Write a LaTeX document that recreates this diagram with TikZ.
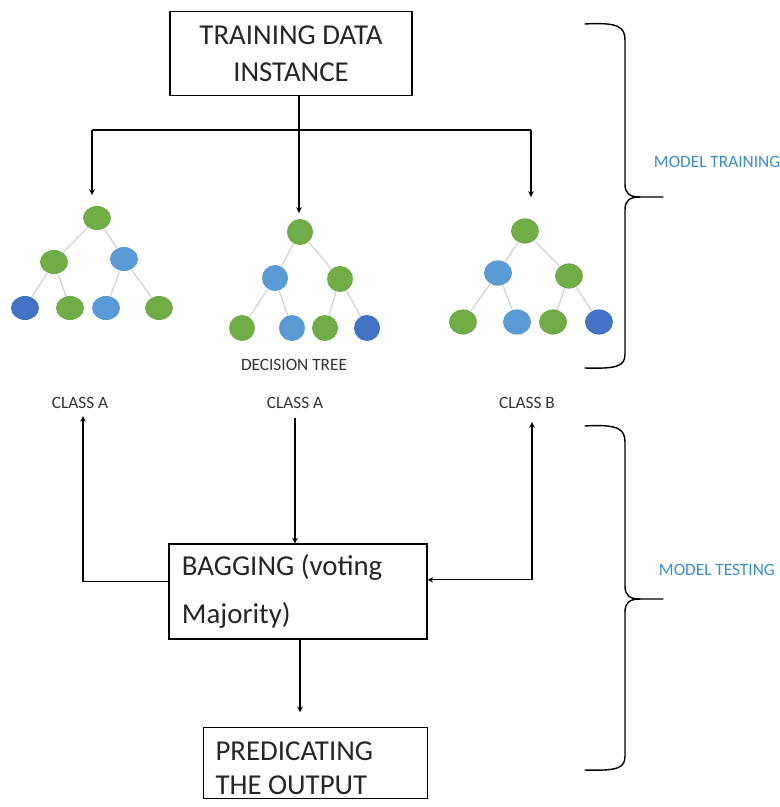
\documentclass[tikz,border=0pt]{standalone}
\usepackage{fontspec}
\setmainfont{Carlito}
\usetikzlibrary{shapes.geometric}

\definecolor{leafgreen}{RGB}{112,173,71}
\definecolor{leafblue}{RGB}{91,155,213}
\definecolor{leafnavy}{RGB}{68,114,196}
\definecolor{branchgray}{RGB}{215,215,215}
\definecolor{tagblue}{RGB}{58,140,210}

\tikzset{
  box/.style={draw, line width=0.8pt, inner sep=0pt},
  bigtext/.style={font=\fontsize{20.5}{26}\selectfont, text=black!85},
  smalltext/.style={font=\fontsize{12.3}{14}\selectfont, text=black!80},
  tagtext/.style={font=\fontsize{12.3}{14}\selectfont, text=tagblue},
  leaf/.style={ellipse, inner sep=0pt, minimum width=0.7cm, minimum height=0.6cm},
  branch/.style={draw=branchgray, line width=1pt},
  flow/.style={line width=0.8pt},
  brace/.style={line width=1pt, line cap=round},
}

\begin{document}
\begin{tikzpicture}[x=0.025cm, y=-0.025cm, >=stealth]
  \useasboundingbox (0,0) rectangle (779,807);

  % 学習データの箱
  \node[box, bigtext, align=center, minimum width=6.05cm, minimum height=2.08cm] (data) at (291,53.5)
    {TRAINING DATA\\INSTANCE};

  % 左の木
  \node[leaf, fill=leafgreen] (a0) at (97,218) {};
  \node[leaf, fill=leafgreen] (a1) at (54,262) {};
  \node[leaf, fill=leafblue]  (a2) at (124,259) {};
  \node[leaf, fill=leafnavy]  (a3) at (25,308) {};
  \node[leaf, fill=leafgreen] (a4) at (70,308) {};
  \node[leaf, fill=leafblue]  (a5) at (106,308) {};
  \node[leaf, fill=leafgreen] (a6) at (159,308) {};
  \draw[branch] (a0) -- (a1) (a0) -- (a2) (a1) -- (a3) (a1) -- (a4) (a2) -- (a5) (a2) -- (a6);

  % 中央の木
  \node[leaf, fill=leafgreen, minimum width=0.65cm, minimum height=0.65cm] (b0) at (300,232) {};
  \node[leaf, fill=leafblue,  minimum width=0.65cm, minimum height=0.65cm] (b1) at (275,278) {};
  \node[leaf, fill=leafgreen, minimum width=0.65cm, minimum height=0.65cm] (b2) at (340,279) {};
  \node[leaf, fill=leafgreen, minimum width=0.65cm, minimum height=0.65cm] (b3) at (242,328) {};
  \node[leaf, fill=leafblue,  minimum width=0.65cm, minimum height=0.65cm] (b4) at (292,328) {};
  \node[leaf, fill=leafgreen, minimum width=0.65cm, minimum height=0.65cm] (b5) at (325,328) {};
  \node[leaf, fill=leafnavy,  minimum width=0.65cm, minimum height=0.65cm] (b6) at (367,328) {};
  \draw[branch] (b0) -- (b1) (b0) -- (b2) (b1) -- (b3) (b1) -- (b4) (b2) -- (b5) (b2) -- (b6);
  \node[smalltext] (treename) at (294,365) {DECISION TREE};

  % 右の木
  \node[leaf, fill=leafgreen, minimum height=0.63cm] (c0) at (525,231) {};
  \node[leaf, fill=leafblue,  minimum height=0.63cm] (c1) at (498,273) {};
  \node[leaf, fill=leafgreen, minimum height=0.63cm] (c2) at (569,276) {};
  \node[leaf, fill=leafgreen, minimum height=0.63cm] (c3) at (463,322) {};
  \node[leaf, fill=leafblue,  minimum height=0.63cm] (c4) at (517,322) {};
  \node[leaf, fill=leafgreen, minimum height=0.63cm] (c5) at (553,322) {};
  \node[leaf, fill=leafnavy,  minimum height=0.63cm] (c6) at (599,322) {};
  \draw[branch] (c0) -- (c1) (c0) -- (c2) (c1) -- (c3) (c1) -- (c4) (c2) -- (c5) (c2) -- (c6);

  % データを三本の木へ分配
  \coordinate (splitL) at (92,130);
  \coordinate (splitM) at (299,130);
  \coordinate (splitR) at (531,130);
  \coordinate (tipL) at (92,195);
  \coordinate (tipM) at (299,213);
  \coordinate (tipR) at (531,197);
  \draw[flow] (splitL) -- (splitR);
  \draw[flow] (data.south -| splitM) -- (splitM);
  \draw[flow, ->] (splitL) -- (tipL);
  \draw[flow, ->] (splitM) -- (tipM);
  \draw[flow, ->] (splitR) -- (tipR);

  % 各木の判定
  \node[smalltext] (classA1) at (80,403) {CLASS A};
  \node[smalltext] (classA2) at (295,403) {CLASS A};
  \node[smalltext] (classB) at (527,403) {CLASS B};

  % 多数決と出力
  \node[box, bigtext, font=\fontsize{20.5}{34}\selectfont, align=flush left, text width=5.8cm,
        inner xsep=0.325cm, minimum height=2.375cm] (bag) at (298,591.5)
    {BAGGING (voting\\Majority)};
  \node[box, bigtext, font=\fontsize{20.5}{24}\selectfont, align=flush left, text width=5cm,
        inner xsep=0.3cm, inner ysep=0.35cm, text depth=0.6cm, anchor=north west] (pred) at (203,727)
    {PREDICATING\\THE OUTPUT};

  \coordinate (upL) at (83,416);
  \coordinate (upR) at (532,422);
  \draw[flow, ->] ([yshift=0.26cm]bag.west) -| (upL);
  \draw[flow, ->] (classA2.south |- 0,418) -- (classA2.south |- bag.north);
  \draw[flow, <->] ([yshift=0.29cm]bag.east) -| (upR);
  \draw[flow, ->, shorten >=10.5pt] (bag.south -| 300,0) -- (pred.north -| 300,0);

  % 括弧と区分名
  \draw[brace] (585,24) .. controls (618,22) and (625,27) .. (625,40) -- (625,184)
    .. controls (625,193) and (629,197) .. (640,197) -- (663,197);
  \draw[brace] (640,197) .. controls (629,197) and (625,201) .. (625,210) -- (625,354)
    .. controls (625,366) and (618,369) .. (585,368);
  \node[tagtext, anchor=west] (training) at (649,162) {MODEL TRAINING};

  \draw[brace] (585,426) .. controls (618,424) and (625,429) .. (625,442) -- (625,586)
    .. controls (625,595) and (629,599) .. (640,599) -- (663,599);
  \draw[brace] (640,599) .. controls (629,599) and (625,603) .. (625,612) -- (625,756)
    .. controls (625,768) and (618,771) .. (585,770);
  \node[tagtext, anchor=west] (testing) at (654,570) {MODEL TESTING};
\end{tikzpicture}
\end{document}
